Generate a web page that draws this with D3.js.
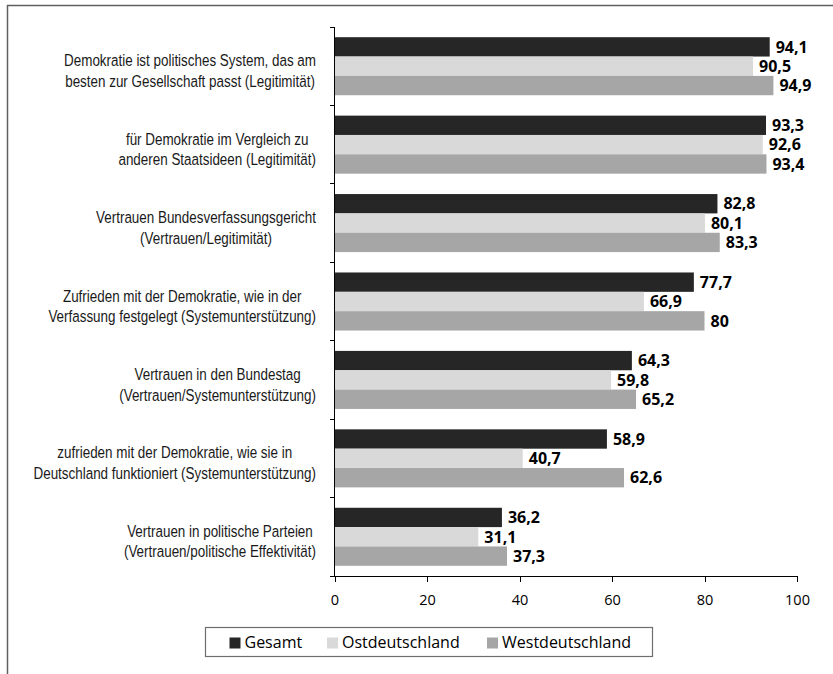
<!doctype html>
<html>
<head>
    <meta charset="utf-8">
    <title>Demokratie: Legitimität und Vertrauen</title>
    <script src="https://d3js.org/d3.v7.min.js"></script>
    <style>
        body {
            margin: 0;
            background: #fff;
        }

        .cat-label {
            font-family: "Liberation Sans", Arial, sans-serif;
            font-size: 17px;
            fill: #1a1a1a;
        }

        .value-label {
            font-family: "Open Sans", "Noto Sans", sans-serif;
            font-weight: bold;
            font-size: 16px;
            fill: #000;
        }

        .axis text {
            font-family: "Open Sans", "Noto Sans", sans-serif;
            font-size: 14.5px;
            fill: #000;
        }

        .axis path,
        .axis line {
            stroke: #000;
            shape-rendering: crispEdges;
        }

        .legend-text {
            font-family: "Open Sans", "Noto Sans", sans-serif;
            font-size: 16px;
            fill: #000;
        }
    </style>
</head>

<body>
<div id="forChart"></div>

<script>

// each category label is split into its two printed lines
const categories = [
    ["Demokratie ist politisches System, das am", "besten zur Gesellschaft passt (Legitimität)"],
    ["für Demokratie im Vergleich zu", "anderen Staatsideen (Legitimität)"],
    ["Vertrauen Bundesverfassungsgericht", "(Vertrauen/Legitimität)"],
    ["Zufrieden mit der Demokratie, wie in der", "Verfassung festgelegt (Systemunterstützung)"],
    ["Vertrauen in den Bundestag", "(Vertrauen/Systemunterstützung)"],
    ["zufrieden mit der Demokratie, wie sie in", "Deutschland funktioniert (Systemunterstützung)"],
    ["Vertrauen in politische Parteien", "(Vertrauen/politische Effektivität)"]
];

const seriesNames = ["Gesamt", "Ostdeutschland", "Westdeutschland"];

const gesamt = [94.1, 93.3, 82.8, 77.7, 64.3, 58.9, 36.2];
const ostdeutschland = [90.5, 92.6, 80.1, 66.9, 59.8, 40.7, 31.1];
const westdeutschland = [94.9, 93.4, 83.3, 80, 65.2, 62.6, 37.3];

const xTicks = [0, 20, 40, 60, 80, 100];

const colors = ["#262626", "#d9d9d9", "#a6a6a6"];

const w = 833;
const h = 674;

const margin = {
    top: 27,
    left: 334.5,
    right: 36,
    bottom: 98
};

// the original uses a condensed face; squeeze a regular one horizontally
const condense = 0.79;

const seriesValues = [gesamt, ostdeutschland, westdeutschland];

const rows = categories.map(function (c, i) {
    return {
        key: i,
        lines: c,
        values: seriesValues.map(function (s, j) {
            return { series: j, value: s[i] };
        })
    };
});

const svg = d3.select("#forChart")
    .append("svg")
    .attr("width", w)
    .attr("height", h);

// outer frame (only top and left edges are visible in the picture)
svg.append("path")
    .attr("d", "M7.5," + h + " V5.5 H" + w)
    .attr("fill", "none")
    .attr("stroke", "#606060")
    .attr("stroke-width", 1.5);

const xScale = d3.scaleLinear()
    .domain([0, 100])
    .range([margin.left, w - margin.right]);

const yScale = d3.scaleBand()
    .domain(rows.map(function (d) { return d.key; }))
    .range([margin.top, h - margin.bottom])
    .paddingInner(0.26)
    .paddingOuter(0.13);

const ySub = d3.scaleBand()
    .domain(d3.range(seriesNames.length))
    .range([0, yScale.bandwidth()]);

const fmt = function (v) {
    return String(v).replace(".", ",");
};

// bars
const groups = svg.selectAll("g.group")
    .data(rows)
    .enter()
    .append("g")
    .attr("class", "group")
    .attr("transform", function (d) { return "translate(0," + yScale(d.key) + ")"; });

groups.selectAll("rect")
    .data(function (d) { return d.values; })
    .enter()
    .append("rect")
    .attr("x", xScale(0))
    .attr("y", function (d) { return ySub(d.series); })
    .attr("width", function (d) { return xScale(d.value) - xScale(0); })
    .attr("height", ySub.bandwidth())
    .attr("fill", function (d) { return colors[d.series]; });

groups.selectAll("text.value-label")
    .data(function (d) { return d.values; })
    .enter()
    .append("text")
    .attr("class", "value-label")
    .attr("x", function (d) { return xScale(d.value) + 6; })
    .attr("y", function (d) { return ySub(d.series) + ySub.bandwidth() / 2; })
    .attr("dy", "0.36em")
    .text(function (d) { return fmt(d.value); });

// x axis
const xAxis = d3.axisBottom(xScale)
    .tickValues(xTicks)
    .tickSize(6)
    .tickPadding(13)
    .tickSizeOuter(0)
    .tickFormat(d3.format("d"));

const xg = svg.append("g")
    .attr("class", "axis")
    .attr("transform", "translate(0," + (h - margin.bottom) + ")")
    .call(xAxis);
xg.select(".domain").attr("d", "M" + (margin.left - 5) + ",0H" + (w - margin.right));

// y axis: vertical line with ticks between the categories
const yg = svg.append("g").attr("class", "axis");
yg.append("line")
    .attr("x1", margin.left).attr("x2", margin.left)
    .attr("y1", margin.top).attr("y2", h - margin.bottom);
yg.selectAll("line.tick")
    .data(d3.range(rows.length + 1))
    .enter()
    .append("line")
    .attr("class", "tick")
    .attr("x1", margin.left - 5)
    .attr("x2", margin.left)
    .attr("y1", function (i) { return margin.top + i * yScale.step(); })
    .attr("y2", function (i) { return margin.top + i * yScale.step(); });

// category labels: lines centred on each other, block right-aligned
const labelRight = 316;
const labels = svg.selectAll("g.cat")
    .data(rows)
    .enter()
    .append("g")
    .attr("class", "cat");

labels.each(function (d) {
    const mid = yScale(d.key) + yScale.bandwidth() / 2;
    const g = d3.select(this)
        .attr("transform", "translate(" + labelRight + "," + mid + ") scale(" + condense + ",1)");
    const texts = d.lines.map(function (line, i) {
        return g.append("text")
            .attr("class", "cat-label")
            .attr("text-anchor", "middle")
            .attr("y", i * 20.7)
            .text(line);
    });
    const maxW = d3.max(texts, function (t) { return t.node().getComputedTextLength(); });
    texts.forEach(function (t) {
        t.attr("x", -maxW / 2);
    });
});

// legend
const legend = svg.append("g")
    .attr("transform", "translate(205.5,627.5)");

legend.append("rect")
    .attr("width", 447)
    .attr("height", 29)
    .attr("fill", "#fff")
    .attr("stroke", "#6e6e6e")
    .attr("stroke-width", 1.2);

const legendX = [24, 121.5, 281.5];

const items = legend.selectAll("g.item")
    .data(seriesNames)
    .enter()
    .append("g")
    .attr("class", "item")
    .attr("transform", function (d, i) { return "translate(" + legendX[i] + ",0)"; });

items.append("rect")
    .attr("y", 10)
    .attr("width", 11)
    .attr("height", 11)
    .attr("fill", function (d, i) { return colors[i]; });

items.append("text")
    .attr("class", "legend-text")
    .attr("x", 15)
    .attr("y", 20)
    .text(function (d) { return d; });

</script>
</body>
</html>
